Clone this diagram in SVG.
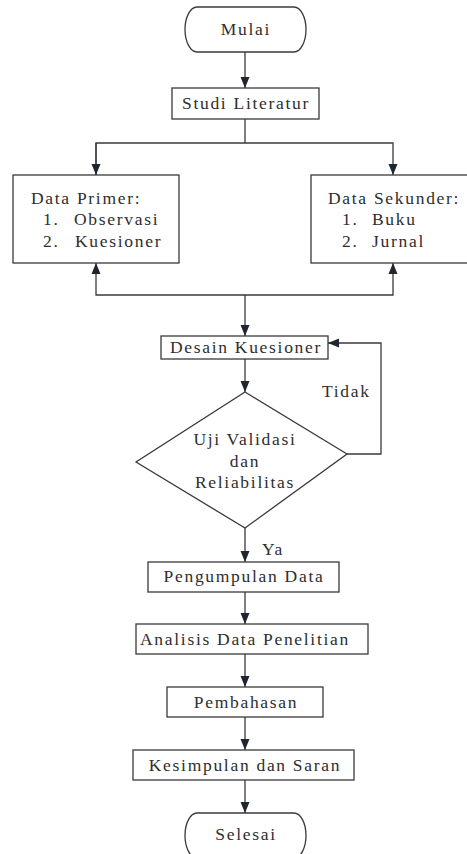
<svg xmlns="http://www.w3.org/2000/svg" width="467" height="854" viewBox="0 0 467 854" font-family="'Liberation Serif', 'Times New Roman', Times, serif">
<style>
.box{fill:#fff;stroke:#3a3a3a;stroke-width:1.3}
.ln{fill:none;stroke:#3a3a3a;stroke-width:1.3}
text{font-family:'Liberation Serif','Times New Roman',Times,serif;font-size:17.5px;fill:#2e2e2e;letter-spacing:1.7px}
.c{text-anchor:middle}
</style>
<defs>
<marker id="ah" markerUnits="userSpaceOnUse" markerWidth="12" markerHeight="12" viewBox="0 0 12 12" refX="11" refY="6" orient="auto">
<path d="M0,1.5 L11,6 L0,10.5 Z" fill="#1f2630"/>
</marker>
</defs>
<rect width="467" height="854" fill="#fff"/>
<g id="connectors">
<line class="ln" x1="245" y1="52" x2="245" y2="88" marker-end="url(#ah)"/>
<polyline class="ln" points="245,119 245,143"/>
<polyline class="ln" points="96,175 96,143 393,143 393,175" marker-end="url(#ah)"/>
<line class="ln" x1="96" y1="143" x2="96" y2="175" marker-end="url(#ah)"/>
<polyline class="ln" points="245,295 96,295 96,263" marker-end="url(#ah)"/>
<polyline class="ln" points="245,295 393,295 393,263" marker-end="url(#ah)"/>
<line class="ln" x1="245" y1="295" x2="245" y2="336" marker-end="url(#ah)"/>
<line class="ln" x1="245" y1="359" x2="245" y2="392" marker-end="url(#ah)"/>
<polyline class="ln" points="347,454 381,454 381,343 328,343" marker-end="url(#ah)"/>
<line class="ln" x1="245" y1="528" x2="245" y2="562" marker-end="url(#ah)"/>
<line class="ln" x1="245" y1="592" x2="245" y2="624" marker-end="url(#ah)"/>
<line class="ln" x1="245" y1="654" x2="245" y2="687" marker-end="url(#ah)"/>
<line class="ln" x1="245" y1="717" x2="245" y2="750" marker-end="url(#ah)"/>
<line class="ln" x1="245" y1="780" x2="245" y2="813" marker-end="url(#ah)"/>
<text x="322" y="397">Tidak</text>
<text x="262" y="555">Ya</text>
</g>
<g id="mulai">
<path class="box" d="M197,7 H294 A12,22.5 0 0 1 294,52 H197 A12,22.5 0 0 1 197,7 Z"/>
<text class="c" x="246" y="35">Mulai</text>
</g>
<g id="studi">
<rect class="box" x="172" y="88" width="147" height="31"/>
<text class="c" x="246" y="109">Studi Literatur</text>
</g>
<g id="primer">
<rect class="box" x="13" y="175" width="166" height="88"/>
<text x="31" y="204">Data Primer:</text>
<text x="43" y="225">1.</text><text x="74" y="225">Observasi</text>
<text x="43" y="247">2.</text><text x="75" y="247">Kuesioner</text>
</g>
<g id="sekunder">
<rect class="box" x="311" y="175" width="158" height="88"/>
<text x="328" y="204">Data Sekunder:</text>
<text x="342" y="225">1.</text><text x="372" y="225">Buku</text>
<text x="342" y="247">2.</text><text x="372" y="247">Jurnal</text>
</g>
<g id="desain">
<rect class="box" x="161" y="336" width="167" height="23"/>
<text class="c" x="246" y="353">Desain Kuesioner</text>
</g>
<g id="uji">
<polygon class="box" points="245,392 347,454 245,528 136,462"/>
<text class="c" x="245" y="445">Uji Validasi</text>
<text class="c" x="245" y="467">dan</text>
<text class="c" x="245" y="488">Reliabilitas</text>
</g>
<g id="pengumpulan">
<rect class="box" x="148" y="562" width="191" height="30"/>
<text class="c" x="244" y="582">Pengumpulan Data</text>
</g>
<g id="analisis">
<rect class="box" x="136" y="624" width="232" height="30"/>
<text class="c" x="245" y="645">Analisis Data Penelitian</text>
</g>
<g id="pembahasan">
<rect class="box" x="167" y="687" width="156" height="30"/>
<text class="c" x="246" y="708">Pembahasan</text>
</g>
<g id="kesimpulan">
<rect class="box" x="133" y="750" width="221" height="30"/>
<text class="c" x="245" y="771">Kesimpulan dan Saran</text>
</g>
<g id="selesai">
<path class="box" d="M197,813 H294 A12,22.5 0 0 1 294,858 H197 A12,22.5 0 0 1 197,813 Z"/>
<text class="c" x="246" y="840">Selesai</text>
</g>
</svg>
